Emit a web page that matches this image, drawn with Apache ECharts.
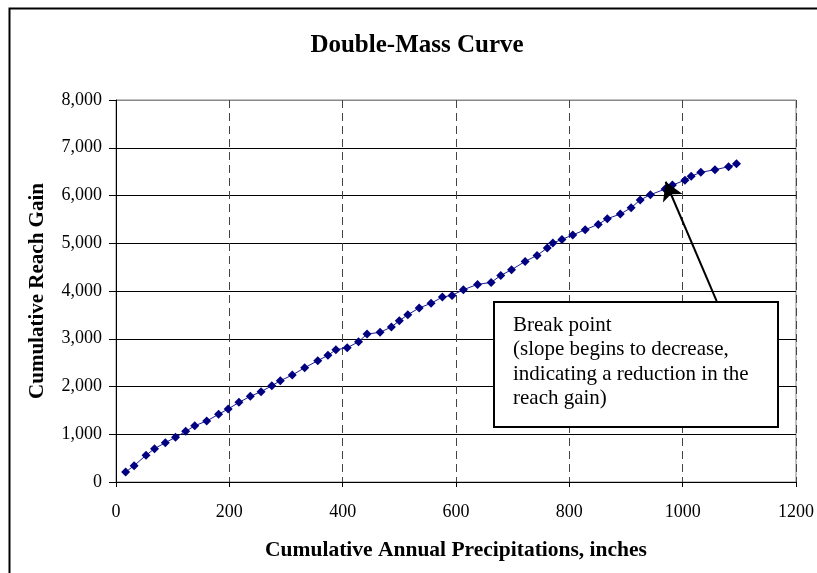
<!DOCTYPE html>
<html>
<head>
<meta charset="utf-8">
<script src="https://cdn.jsdelivr.net/npm/echarts@6/dist/echarts.min.js"></script>
<style>
html,body{margin:0;padding:0;background:#fff;}
#c{width:817px;height:573px;}
</style>
</head>
<body>
<div id="c"></div>
<script>
// Cumulative annual precipitation (inches)
const precip = [17,32,53,68,87,105,123,139,160,181,198,217,237,256,275,290,311,333,356,374,388,408,428,443,466,486,500,515,535,556,576,593,613,638,662,679,698,722,743,761,771,787,806,828,851,867,890,909,925,943,969,982,1004,1015,1032,1057,1081,1095];
// Cumulative reach gain
const reachGain = [209,342,560,698,824,935,1061,1178,1277,1417,1529,1668,1794,1891,2017,2121,2240,2393,2540,2652,2769,2811,2937,3099,3134,3246,3378,3504,3644,3743,3874,3908,4027,4138,4180,4326,4446,4620,4746,4900,5005,5081,5173,5284,5395,5514,5612,5744,5905,6016,6135,6219,6320,6403,6485,6540,6603,6663];
const xTicks = [0,200,400,600,800,1000,1200];
const yTicks = [0,1000,2000,3000,4000,5000,6000,7000,8000];
const arrowFrom = [1060, 3790];
const arrowTo = [970, 6288];
const noteLines = ['Break point','(slope begins to decrease,','indicating a reduction in the','reach gain)'];

const serif = '"Liberation Serif","Times New Roman",serif';
const chart = echarts.init(document.getElementById('c'));
const points = precip.map((x,i)=>[x, reachGain[i]]);

chart.setOption({
  animation:false,
  backgroundColor:'#fff',
  title:{
    text:'Double-Mass Curve',
    left:412, top:28, textAlign:'center',
    textStyle:{fontFamily:serif,fontWeight:'bold',fontSize:25,color:'#000'}
  },
  grid:{left:116,top:100,right:20,bottom:91,show:true,borderColor:'#888',borderWidth:1,backgroundColor:'transparent'},
  xAxis:{
    type:'value', min:xTicks[0], max:xTicks[xTicks.length-1], interval:200,
    name:'Cumulative Annual Precipitations, inches',
    nameLocation:'middle', nameGap:57,
    nameTextStyle:{fontFamily:serif,fontWeight:'bold',fontSize:21.5,color:'#000'},
    axisLine:{onZero:false,lineStyle:{color:'#000',width:1}},
    axisTick:{show:true,length:5,lineStyle:{color:'#000'}},
    axisLabel:{fontFamily:serif,fontSize:18,color:'#000',margin:21,formatter:v=>String(v)},
    splitLine:{show:true,lineStyle:{type:[8,5],color:'#444',width:1}}
  },
  yAxis:{
    type:'value', min:yTicks[0], max:yTicks[yTicks.length-1], interval:1000,
    name:'Cumulative Reach Gain',
    nameLocation:'middle', nameGap:68,
    nameTextStyle:{fontFamily:serif,fontWeight:'bold',fontSize:21,color:'#000'},
    axisLine:{show:true,lineStyle:{color:'#000',width:1}},
    axisTick:{show:true,length:7,lineStyle:{color:'#000'}},
    axisLabel:{fontFamily:serif,fontSize:18,color:'#000',margin:14,
      formatter:v=>v.toLocaleString('en-US')},
    splitLine:{show:true,lineStyle:{color:['#000','#000','#000','#000','#000','#000','#000','#000','#888'],width:1}}
  },
  series:[{
    type:'line',
    data:points,
    symbol:'diamond',
    symbolSize:9,
    lineStyle:{color:'#1a1a9a',width:1},
    itemStyle:{color:'#000080'},
    z:3,
    markLine:{
      silent:true,
      symbol:['none','arrow'],
      symbolSize:[16,18],
      label:{show:false},
      lineStyle:{color:'#000',width:2,type:'solid'},
      data:[[{coord:arrowFrom},{coord:arrowTo}]]
    }
  }],
  graphic:[
    {type:'rect',left:7,top:6,shape:{width:830,height:600},style:{fill:'none',stroke:'#000',lineWidth:2},z:0,silent:true},
    {type:'rect',shape:{x:494,y:302,width:284,height:125},style:{fill:'#fff',stroke:'#000',lineWidth:2},z:100},
    {type:'text',x:513,y:313,style:{text:noteLines.join('\n'),font:'21px '+serif,lineHeight:24.5,fill:'#000'},z:101}
  ]
});
</script>
</body>
</html>
